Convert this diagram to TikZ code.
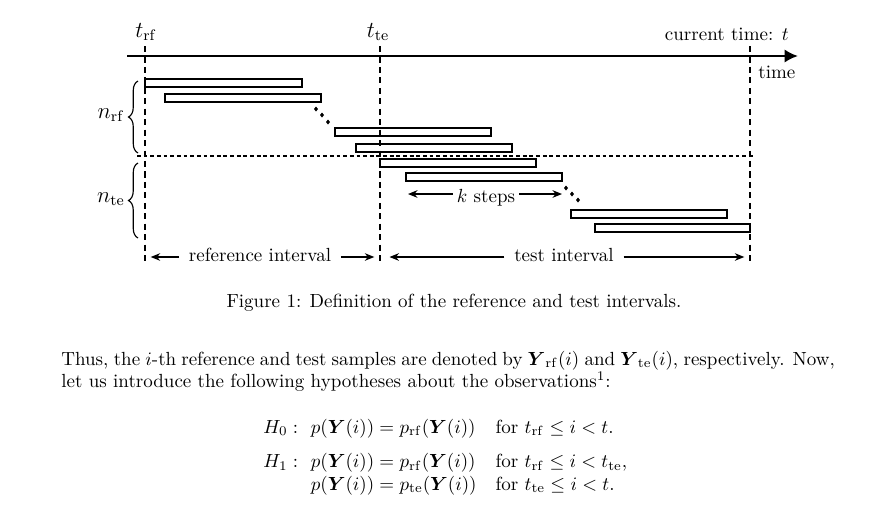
\documentclass[tikz,border=0pt]{standalone}
\usepackage{amsmath}
\usepackage{amssymb}
\usepackage{tikz}
\usetikzlibrary{arrows.meta,decorations.pathreplacing,positioning}

\begin{document}
\begin{tikzpicture}[x=0.0185cm,y=-0.0185cm,
    win/.style={draw,line width=0.7pt},
    guide/.style={dash pattern=on 3.2pt off 2.3pt,line width=0.7pt},
    span/.style={-{Stealth[length=5pt,width=4pt]},line width=0.6pt},
    lbl/.style={inner sep=0pt}]
 		\useasboundingbox (0,0) rectangle (881,514);
 		% time axis
 		\draw[line width=1.5pt,-{Latex[length=7pt,width=7pt]}] (127,56) -- (798,56);
 		\node[lbl,anchor=base] (trf) at (146,37) {\large $t_{\mathrm{rf}}$};
 		\node[lbl,anchor=base] (tte) at (378,37) {\large $t_{\mathrm{te}}$};
 		\node[lbl,anchor=base east] (now) at (789,40) {current time: $t$};
 		\node[lbl,anchor=base west] (axis) at (758,78) {time};
 		% dashed guides
 		\coordinate (rftop) at (145,46); \coordinate (rfbot) at (145,262);
 		\coordinate (tetop) at (380,46); \coordinate (tebot) at (380,262);
 		\coordinate (nowtop) at (750,46); \coordinate (nowbot) at (750,262);
 		\draw[guide] (rftop) -- (rfbot);
 		\draw[guide] (tetop) -- (tebot);
 		\draw[guide] (nowtop) -- (nowbot);
 		\draw[line width=0.7pt,dash pattern=on 2pt off 1.5pt] (137,156) -- (753,156);
 		% windows
 		\foreach \a/\b/\c in {145/79/302,165/94/321,335/128/491,356/144/512,
 		    380/159/536,406/173/562,571/210/727,595/224/750}
 		  \draw[win] (\a,\b) rectangle (\c,\b+8);
 		\foreach \x/\y in {316/109,322/115,328/122,566/188,572/194,578/200}
 		  \fill[shift={(\x,\y)}] (0,-2.5) -- (2,0) -- (0,2.5) -- (-2,0) -- cycle;
 		% braces
 		\draw[decorate,decoration={brace,amplitude=5pt},line width=0.6pt] (138,153) -- (138,81);
 		\draw[decorate,decoration={brace,amplitude=5pt},line width=0.6pt] (138,238) -- (138,163);
 		\node[lbl,anchor=base] (nrf) at (111,118) {\large $n_{\mathrm{rf}}$};
 		\node[lbl,anchor=base] (nte) at (111,202) {\large $n_{\mathrm{te}}$};
 		% k steps
 		\node[inner sep=2pt,anchor=base] (kst) at (486,202) {$k$ steps};
 		\coordinate (kl) at (408,194); \coordinate (kr) at (562,194);
 		\draw[span] (kst.west |- kl) -- (kl);
 		\draw[span] (kst.east |- kr) -- (kr);
 		% intervals
 		\node[inner sep=5pt,anchor=base] (refint) at (260,261) {reference interval};
 		\node[inner sep=5pt,anchor=base] (testint) at (564,261) {test interval};
 		\draw[span,shorten >=3pt] (refint.west |- 0,257) -- (rfbot |- 0,257);
 		\draw[span,shorten >=3pt] (refint.east |- 0,257) -- (tebot |- 0,257);
 		\draw[span,shorten >=5pt] (testint.west |- 0,257) -- (tebot |- 0,257);
 		\draw[span,shorten >=3pt] (testint.east |- 0,257) -- (nowbot |- 0,257);
 		% caption and text
 		\node[lbl,anchor=base] (cap) at (454,307) {Figure 1: Definition of the reference and test intervals.};
 		\node[lbl,anchor=base west] (par1) at (61,365) {\makebox[407pt][s]{Thus, the $i$-th reference and test samples are denoted by $\boldsymbol{Y}_{\mathrm{rf}}(i)$ and $\boldsymbol{Y}_{\mathrm{te}}(i)$, respectively. Now,}};
 		\node[lbl,anchor=base west] (par2) at (61,387) {let us introduce the following hypotheses about the observations\textsuperscript{1}:};
 		\node[lbl,anchor=base west] (hyp) at (263,433) {$\begin{array}[t]{@{}l@{\ \ }l@{\quad}l@{}}
 		  H_0 : & p(\boldsymbol{Y}(i)) = p_{\mathrm{rf}}(\boldsymbol{Y}(i)) & \text{for } t_{\mathrm{rf}} \le i < t.\\[6pt]
 		  H_1 : & p(\boldsymbol{Y}(i)) = p_{\mathrm{rf}}(\boldsymbol{Y}(i)) & \text{for } t_{\mathrm{rf}} \le i < t_{\mathrm{te}},\\
 		        & p(\boldsymbol{Y}(i)) = p_{\mathrm{te}}(\boldsymbol{Y}(i)) & \text{for } t_{\mathrm{te}} \le i < t.
 		\end{array}$};
\end{tikzpicture}
\end{document}
